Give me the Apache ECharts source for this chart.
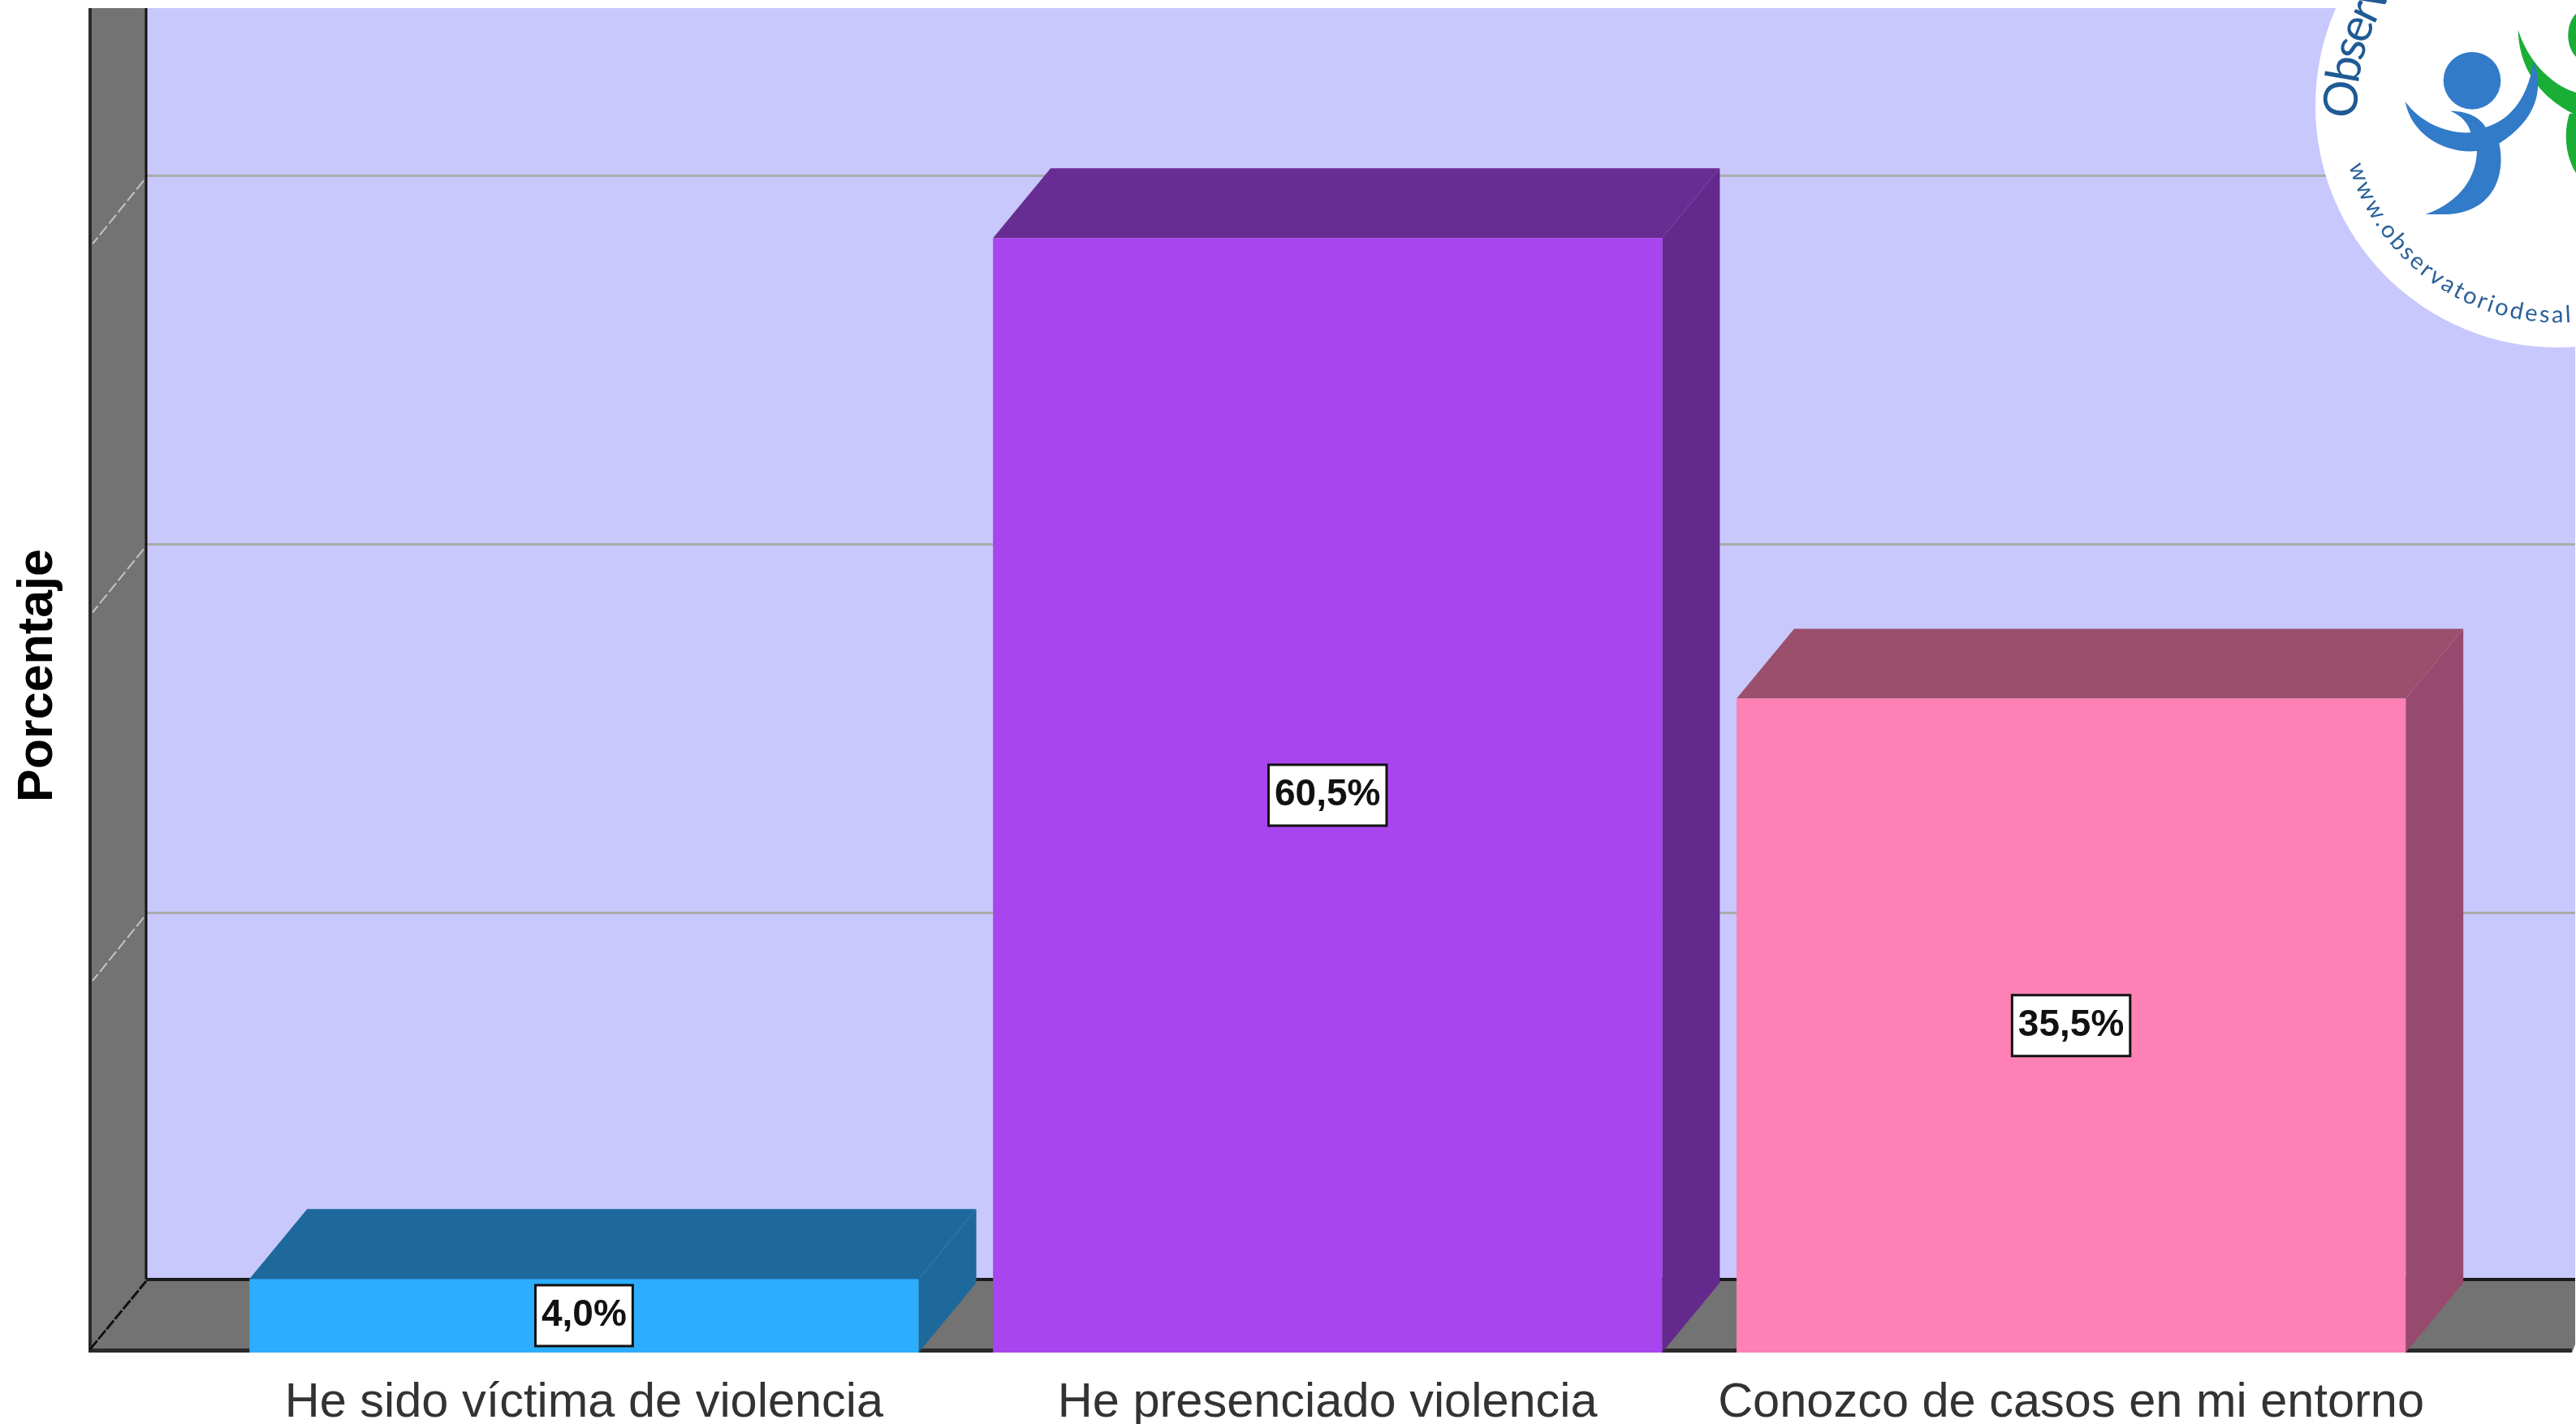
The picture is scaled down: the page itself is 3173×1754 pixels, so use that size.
<!DOCTYPE html>
<html>
<head>
<meta charset="utf-8">
<title>Porcentaje</title>
<script src="https://cdn.jsdelivr.net/npm/echarts@6/dist/echarts.min.js"></script>
<style>
  html, body { margin: 0; padding: 0; background: #fff; overflow: hidden; }
  #main { width: 3173px; height: 1754px; }
</style>
</head>
<body>
<div id="main"></div>
<script>
const categories = ['He sido víctima de violencia', 'He presenciado violencia', 'Conozco de casos en mi entorno'];
const percentages = [4.0, 60.5, 35.5];
const gridTicks = [20, 40, 60];
const axisMax = 69.1;
const axisTitle = 'Porcentaje';

const frontColors = ['#2CADFF', '#A845EF', '#FD81B4'];
const topColors = ['#1E699C', '#682D92', '#9B4F6C'];
const sideColors = ['#1E699C', '#63298D', '#984A6E'];

// the fake 3d box
const depthX = 71;
const depthY = 86;
const wallLeft = 111;
const wallBack = 180;
const wallTop = 10;
const floorBack = 1576;
const floorFront = 1666;
const W = 3173;

// logo outlines, in the units of the logo group (3 units = 1px)
echarts.graphic.registerShape('logoGreenArm', echarts.graphic.extendPath('M1055 110 C1090 220 1170 310 1269 342 L1269 425 C1220 400 1060 320 1055 110 Z', {}));
echarts.graphic.registerShape('logoGreenBody', echarts.graphic.extendPath('M1245 420 C1225 480 1225 570 1269 640 L1269 420 Z', {}));
echarts.graphic.registerShape('logoGreenHead', echarts.graphic.extendPath('M1269 50 C1230 90 1230 170 1269 210 Z', {}));
echarts.graphic.registerShape('logoBlueBody', echarts.graphic.extendPath('M638 375 C690 450 790 495 880 490 C870 450 840 425 805 410 C870 410 915 435 935 470 C1010 450 1090 380 1112 225 C1150 320 1130 440 985 530 C1010 640 970 790 780 792 L712 792 C810 760 900 680 903 558 C790 570 660 500 638 375 Z', {}));

const chart = echarts.init(document.getElementById('main'));

function renderDepth(params, api) {
  const i = api.value(0);
  const top = api.coord([i, api.value(1)]);
  const base = api.coord([i, 0]);
  const half = api.size([1, 0])[0] * 0.9 / 2;
  const x0 = top[0] - half;
  const x1 = top[0] + half;
  return {
    type: 'group',
    children: [
      {
        type: 'polygon',
        shape: { points: [[x1, top[1]], [x1 + depthX, top[1] - depthY], [x1 + depthX, base[1] - depthY], [x1, base[1]]] },
        style: { fill: sideColors[i] }
      },
      {
        type: 'polygon',
        shape: { points: [[x0, top[1]], [x0 + depthX, top[1] - depthY], [x1 + depthX, top[1] - depthY], [x1, top[1]]] },
        style: { fill: topColors[i] }
      }
    ]
  };
}

chart.setOption({
  animation: false,
  backgroundColor: '#fff',
  grid: [
    { left: 261.5, width: 2747.5, top: floorFront - 1568, height: 1568, outerBoundsMode: 'none' },
    { left: wallBack, width: W - wallBack - 1, top: wallTop, height: 1568, show: true, backgroundColor: '#C8C8FD', borderWidth: 0, outerBoundsMode: 'none' }
  ],
  xAxis: [
    {
      type: 'category',
      gridIndex: 0,
      data: categories,
      axisLine: { show: false },
      axisTick: { show: false },
      axisLabel: { interval: 0, margin: 33, fontFamily: 'Liberation Sans', fontSize: 59.5, color: '#333' }
    },
    { type: 'category', gridIndex: 1, show: false, data: categories }
  ],
  yAxis: [
    { type: 'value', gridIndex: 0, min: 0, max: axisMax, show: false },
    {
      type: 'value',
      gridIndex: 1,
      min: 0,
      max: axisMax,
      interval: 20,
      name: axisTitle,
      nameLocation: 'middle',
      nameGap: 102,
      nameTextStyle: { fontFamily: 'Liberation Sans', fontWeight: 'bold', fontSize: 61, color: '#000', padding: [0, 76, 0, 0] },
      axisLine: { show: false },
      axisTick: { show: false },
      axisLabel: { show: false },
      splitLine: { show: true, showMaxLine: false, lineStyle: { color: '#ABABAB', width: 3 } }
    }
  ],
  series: [
    {
      type: 'custom',
      xAxisIndex: 0,
      yAxisIndex: 0,
      clip: false,
      z: 3,
      renderItem: renderDepth,
      data: percentages.map((v, i) => [i, v])
    },
    {
      type: 'bar',
      xAxisIndex: 0,
      yAxisIndex: 0,
      z: 4,
      barWidth: '90%',
      data: percentages,
      itemStyle: { color: p => frontColors[p.dataIndex] },
      label: {
        show: true,
        position: 'inside',
        formatter: p => p.value.toFixed(1).replace('.', ',') + '%',
        fontFamily: 'Liberation Sans',
        fontWeight: 'bold',
        fontSize: 46,
        color: '#111',
        backgroundColor: '#fff',
        borderColor: '#111',
        borderWidth: 3,
        padding: [17, 6, 9, 6]
      }
    }
  ]
});

// letters set one by one round the logo circle
const measure = document.createElement('canvas').getContext('2d');
function arcText(str, font, size, color, cx, cy, r, startDeg, dir, spacing) {
  measure.font = size + 'px ' + font;
  const out = [];
  let s = 0;
  for (const ch of str) {
    const w = measure.measureText(ch).width;
    const deg = startDeg + dir * (s + w / 2) / r * 180 / Math.PI;
    const rad = deg * Math.PI / 180;
    const rot = dir > 0 ? -(deg + 90) : -(deg - 90);
    out.push({
      type: 'text',
      x: cx + r * Math.cos(rad),
      y: cy + r * Math.sin(rad),
      rotation: rot * Math.PI / 180,
      style: { text: ch, font: size + 'px ' + font, fill: color, align: 'center', verticalAlign: 'middle' }
    });
    s += w + spacing;
  }
  return out;
}

const wallTicks = gridTicks.map(v => {
  const y = chart.convertToPixel({ yAxisIndex: 1 }, v);
  return {
    type: 'line',
    shape: { x1: wallBack - 3, y1: y + 6, x2: wallLeft + 3, y2: y + 84 },
    style: { stroke: '#C4C4C4', lineWidth: 2, lineDash: [14, 4] }
  };
});

const logo = {
  type: 'group',
  x: 2750,
  y: 0,
  scaleX: 1 / 3,
  scaleY: 1 / 3,
  children: [
    { type: 'logoGreenArm', style: { fill: '#1BAE37' } },
    { type: 'logoGreenBody', style: { fill: '#1BAE37' } },
    { type: 'logoGreenHead', style: { fill: '#1BAE37' } },
    { type: 'circle', shape: { cx: 885, cy: 298, r: 106 }, style: { fill: '#327BC8' } },
    { type: 'logoBlueBody', style: { fill: '#327BC8' } }
  ]
};

chart.setOption({
  graphic: {
    z: 1,
    elements: [
      { type: 'polygon', shape: { points: [[wallLeft, wallTop], [wallBack, wallTop], [wallBack, floorBack], [wallLeft, floorFront]] }, style: { fill: '#737373' } },
      { type: 'polygon', shape: { points: [[wallLeft, floorFront], [wallBack, floorBack], [W - 1, floorBack], [W - 1, floorFront - 10], [W - 5, floorFront]] }, style: { fill: '#737373' } },
      { type: 'line', shape: { x1: wallLeft, y1: wallTop, x2: wallLeft, y2: floorFront }, style: { stroke: '#2A2A2A', lineWidth: 4 } },
      { type: 'line', shape: { x1: wallBack, y1: wallTop, x2: wallBack, y2: floorBack }, style: { stroke: '#111', lineWidth: 3 } },
      { type: 'line', shape: { x1: wallBack, y1: floorBack, x2: W - 1, y2: floorBack }, style: { stroke: '#1A1A1A', lineWidth: 4 } },
      { type: 'line', shape: { x1: wallLeft, y1: floorFront - 2.5, x2: W - 5, y2: floorFront - 2.5 }, style: { stroke: '#2A2A2A', lineWidth: 5 } },
      { type: 'line', shape: { x1: wallLeft, y1: floorFront - 4, x2: wallBack, y2: floorBack + 2 }, style: { stroke: '#111', lineWidth: 3, lineDash: [14, 2] } },
      ...wallTicks,
      { type: 'circle', shape: { cx: 3150, cy: 130, r: 298 }, style: { fill: '#fff' } },
      logo,
      ...arcText('Observ', 'Lato', 58, '#1F5A94', 3150, 130, 265, 176.8, 1, -2.5),
      ...arcText('www.observatoriodesal', 'Lato', 29, '#2A6199', 3150, 130, 258, 164, -1, 2.4)
    ]
  }
});
</script>
</body>
</html>
